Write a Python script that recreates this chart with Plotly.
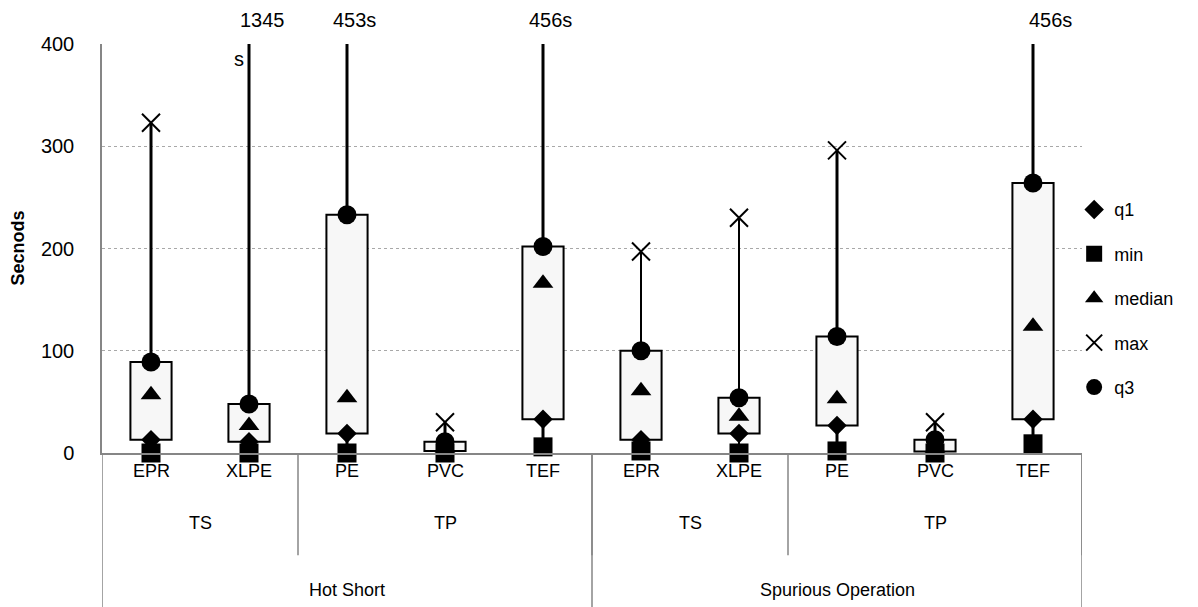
import plotly.graph_objects as go

# ---- data ----
materials = ["EPR", "XLPE", "PE", "PVC", "TEF", "EPR", "XLPE", "PE", "PVC", "TEF"]
groups = ["TS", "TP"]
group_spans = [(0, 1), (2, 4), (5, 6), (7, 9)]
modes = ["Hot Short", "Spurious Operation"]
mode_spans = [(0, 4), (5, 9)]

q1_vals = [13, 11, 19, 2, 33, 13, 19, 27, 1.5, 33]
min_vals = [0, 0, 0, 0, 6, 2, 0, 2, 0, 9]
median_vals = [57, 27, 54, 5, 166, 61, 36, 53, 5, 124]
max_vals = [323, 1345, 453, 30, 456, 197, 230, 296, 30, 456]
q3_vals = [89, 48, 233, 11, 202, 100, 54, 114, 13, 264]

offscale_labels = {1: ["1345", "s"], 2: ["453s"], 4: ["456s"], 9: ["456s"]}

# ---- style ----
FONT = "Liberation Sans"
FS = 18          # category / legend text
FS_NUM = 20      # numeric labels
whisker_width = [3, 3, 3, 3, 3, 2, 2, 3, 3, 3]
AXIS_GRAY = "#868686"

idx = list(range(len(materials)))
fig = go.Figure()

# boxes (q1 -> q3)
fig.add_trace(go.Bar(
    x=idx, y=[b - a for a, b in zip(q1_vals, q3_vals)], base=q1_vals,
    width=0.42, marker=dict(color="#f7f7f7", line=dict(color="black", width=2)),
    showlegend=False, hoverinfo="skip"))

# whiskers
for i in idx:
    fig.add_trace(go.Scatter(
        x=[i, i, None, i, i], y=[min_vals[i], q1_vals[i], None, q3_vals[i], max_vals[i]],
        mode="lines", line=dict(color="black", width=whisker_width[i]),
        showlegend=False, hoverinfo="skip", cliponaxis=True))

series = [
    ("q1", q1_vals, dict(symbol="diamond", size=15, color="black")),
    ("min", min_vals, dict(symbol="square", size=19, color="black")),
    ("median", median_vals, dict(symbol="triangle-up", size=18, color="black")),
    ("max", max_vals, dict(symbol="x-thin", size=18, color="black",
                           line=dict(color="black", width=2))),
    ("q3", q3_vals, dict(symbol="circle", size=19, color="black")),
]
for name, vals, mk in series:
    fig.add_trace(go.Scatter(
        x=idx, y=vals, mode="markers", name=name, marker=mk,
        legendgroup=name, cliponaxis=False))

annotations = []
# off-scale labels above the plot
label_shift = {1: 13, 2: 7, 4: 7, 9: 17}
for i, lines in offscale_labels.items():
    annotations.append(dict(x=i, y=1, xref="x", yref="paper", text=lines[0],
                            showarrow=False, xanchor="center", yanchor="middle",
                            xshift=label_shift[i], yshift=24,
                            font=dict(family=FONT, size=FS_NUM, color="black")))
    if len(lines) > 1:
        annotations.append(dict(x=i, y=1, xref="x", yref="paper", text=lines[1],
                                showarrow=False, xanchor="center", yanchor="middle",
                                xshift=-10, yshift=-15,
                                font=dict(family=FONT, size=FS_NUM, color="black")))

# multi-level category labels
for i, m in enumerate(materials):
    annotations.append(dict(x=i, y=0, xref="x", yref="paper", text=m, showarrow=False,
                            yanchor="middle", yshift=-18,
                            font=dict(family=FONT, size=FS, color="black")))
for k, (a, b) in enumerate(group_spans):
    annotations.append(dict(x=(a + b) / 2, y=0, xref="x", yref="paper",
                            text=groups[k % 2], showarrow=False, yanchor="middle",
                            yshift=-70, font=dict(family=FONT, size=FS, color="black")))
for k, (a, b) in enumerate(mode_spans):
    annotations.append(dict(x=(a + b) / 2, y=0, xref="x", yref="paper",
                            text=modes[k], showarrow=False, yanchor="middle",
                            yshift=-137, font=dict(family=FONT, size=FS, color="black")))

# y-axis title
annotations.append(dict(x=-0.0867, y=0.5, xref="paper", yref="paper",
                        text="<b>Secnods</b>", textangle=-90, showarrow=False,
                        xanchor="center", yanchor="middle",
                        font=dict(family=FONT, size=18, color="black")))

shapes = []
for (a, b) in group_spans:
    shapes.append(dict(type="line", xref="x", yref="paper", x0=b + 0.5, x1=b + 0.5,
                       y0=0, y1=-0.25, line=dict(color=AXIS_GRAY, width=1.5)))
for (a, b) in mode_spans:
    shapes.append(dict(type="line", xref="x", yref="paper", x0=b + 0.5, x1=b + 0.5,
                       y0=0, y1=-0.40, line=dict(color=AXIS_GRAY, width=1.5)))
shapes.append(dict(type="line", xref="x", yref="paper", x0=-0.5, x1=-0.5,
                   y0=0, y1=-0.40, line=dict(color=AXIS_GRAY, width=1.5)))

# page body has an 8px margin, so the figure is sized/offset to compensate
fig.update_layout(
    width=1190, height=599,
    margin=dict(l=94, r=116, t=36, b=154),
    paper_bgcolor="white", plot_bgcolor="white",
    font=dict(family=FONT, size=FS, color="black"),
    barmode="overlay",
    xaxis=dict(range=[-0.5, 9.5], showticklabels=False, ticks="", showgrid=False,
               zeroline=False, showline=True, linecolor=AXIS_GRAY, linewidth=1.5),
    yaxis=dict(range=[0, 400], tickvals=[0, 100, 200, 300, 400], ticks="",
               showgrid=True, gridcolor="#a8a8a8", griddash="dot", gridwidth=1.3,
               zeroline=False, showline=True, linecolor=AXIS_GRAY, linewidth=1.5,
               ticklabelstandoff=22, tickfont=dict(family=FONT, size=FS_NUM)),
    legend=dict(x=0.992, y=0.64, xanchor="left", yanchor="top",
                bgcolor="rgba(0,0,0,0)", tracegroupgap=18,
                font=dict(family=FONT, size=FS)),
    annotations=annotations, shapes=shapes,
)

fig.write_html("out.html")
